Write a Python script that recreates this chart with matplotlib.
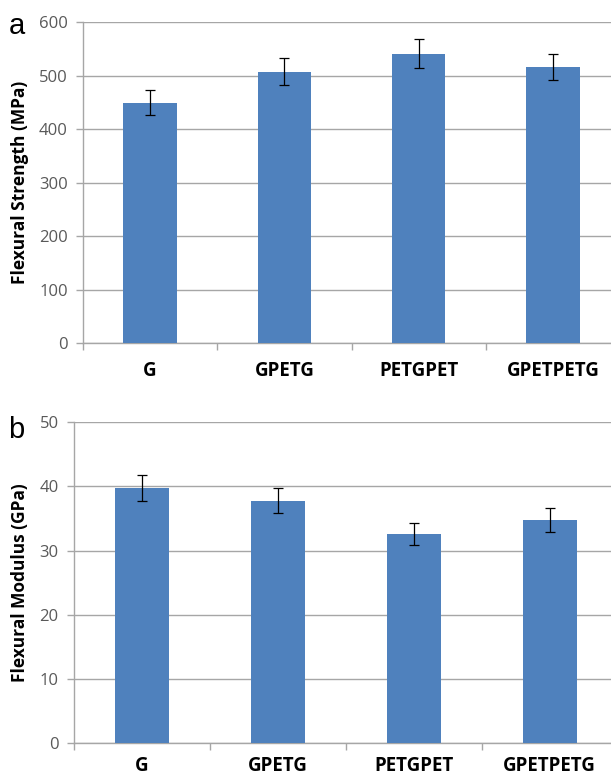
# Flexural strength and modulus of the four laminate stacking sequences.
import numpy as np
import matplotlib.pyplot as plt

# --------------------------- DATA ---------------------------

sequences = ['G', 'GPETG', 'PETGPET', 'GPETPETG']

strength_mean = [449, 507, 541, 516]        # [MPa]
strength_err = [23, 25, 27, 25]             # [MPa]

modulus_mean = [39.8, 37.8, 32.6, 34.8]     # [GPa]
modulus_err = [2.0, 1.9, 1.7, 1.85]         # [GPa]

# --------------------------- STYLE ---------------------------

bar_color = '#4F81BD'
grid_color = '#a6a6a6'
tick_color = '#595959'

plt.rcParams['font.family'] = ['Open Sans', 'DejaVu Sans']

fig = plt.figure(figsize=(6.11, 7.78), dpi=100)


def draw_panel(ax, means, errs, ymax, ystep, ylabel, letter, letter_xy, label_x, cat_pad):
    x = np.arange(len(sequences))
    ax.bar(x, means, width=0.4, color=bar_color, zorder=3)
    ax.errorbar(x, means, yerr=errs, fmt='none', ecolor='black', elinewidth=0.9,
                capsize=3.5, capthick=0.9, zorder=4)

    ax.set_xlim(-0.5, len(sequences) - 0.5)
    ax.set_ylim(0, ymax)
    ax.set_yticks(np.arange(0, ymax + ystep / 2, ystep))
    ax.yaxis.grid(True, color=grid_color, linewidth=1.0, zorder=0)
    ax.set_axisbelow(True)

    # Category labels sit between boundary ticks, Excel-style.
    ax.set_xticks(x)
    ax.set_xticklabels(sequences, fontsize=13.5, fontweight='bold', color='black')
    ax.tick_params(axis='x', which='major', length=0, pad=cat_pad)
    ax.set_xticks(np.arange(-0.5, len(sequences), 1.0), minor=True)
    ax.tick_params(axis='x', which='minor', length=5, color=grid_color, width=1.0)

    ax.tick_params(axis='y', length=5, color=grid_color, width=1.0, labelsize=12,
                   labelcolor=tick_color, pad=6)

    for side in ('top', 'right'):
        ax.spines[side].set_visible(False)
    for side in ('left', 'bottom'):
        ax.spines[side].set_color(grid_color)
        ax.spines[side].set_linewidth(1.0)

    # Axis title placed in figure coordinates so both panels line up.
    ax.set_ylabel(ylabel, fontsize=12.5, fontweight='bold', color='black')
    pos = ax.get_position()
    ax.yaxis.set_label_coords(label_x, pos.y0 + pos.height / 2, transform=fig.transFigure)

    fig.text(letter_xy[0], letter_xy[1], letter, fontsize=21, family='Liberation Sans',
             ha='left', va='center', color='black')


# Panel (a): flexural strength.
ax_a = fig.add_axes([0.1358, 0.5591, 0.879, 0.4126])
draw_panel(ax_a, strength_mean, strength_err, 600, 100, 'Flexural Strength (MPa)',
           'a', (0.014, 0.966), 29 / 611, 13)

# Panel (b): flexural modulus.
ax_b = fig.add_axes([0.1211, 0.0446, 0.890, 0.4126])
draw_panel(ax_b, modulus_mean, modulus_err, 50, 10, 'Flexural Modulus (GPa)',
           'b', (0.014, 0.447), 29 / 611, 9)

fig.savefig('out.png', dpi=100)
